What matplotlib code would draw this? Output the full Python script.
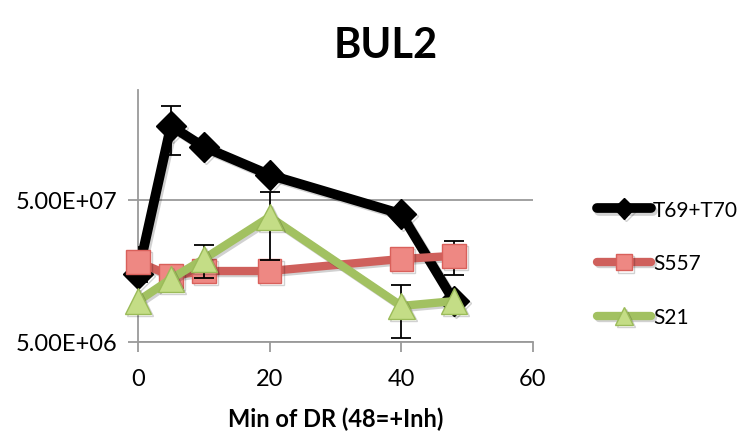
import matplotlib
matplotlib.use("Agg")
import matplotlib.pyplot as plt
import matplotlib.patheffects as pe
from matplotlib.ticker import FixedLocator, NullLocator

plt.rcParams['font.family'] = ['Lato', 'DejaVu Sans']

# minutes of DR (48 = +Inh)
minutes = [0, 5, 10, 20, 40, 48]

t69_t70 = [1.51e7, 1.66e8, 1.18e8, 7.5e7, 3.98e7, 9.7e6]
t69_t70_err = [0, 6.3e7, 0, 0, 0, 0]

s557 = [1.83e7, 1.46e7, 1.58e7, 1.58e7, 1.92e7, 2.02e7]
s557_err = [5e6, 0, 0, 0, 0, 5.5e6]

s21 = [9.7e6, 1.39e7, 1.92e7, 3.80e7, 8.97e6, 9.7e6]
s21_err = [0, 0, 5e6, 1.9e7, 3.6e6, 0]

y_ticks = [5e6, 5e7]
y_tick_labels = ["5.00E+06", "5.00E+07"]
x_ticks = [0, 20, 40, 60]

fig = plt.figure(figsize=(7.47, 4.35), dpi=100)
ax = fig.add_axes([0.1847, 0.2115, 0.5288, 0.5793])

shadow = [pe.SimpleLineShadow(offset=(1.5, -1.5), alpha=0.18, shadow_color='black'), pe.Normal()]

series = [
    ("T69+T70", t69_t70, t69_t70_err, dict(color='black', marker='D', markersize=15,
                                            markerfacecolor='black', markeredgecolor='black',
                                            linewidth=7)),
    ("S557", s557, s557_err, dict(color='#CF605C', marker='s', markersize=17,
                                   markerfacecolor='#EE8883', markeredgecolor='#D9605B',
                                   linewidth=6)),
    ("S21", s21, s21_err, dict(color='#A2C161', marker='^', markersize=19,
                                markerfacecolor='#C4DD86', markeredgecolor='#9BBB59',
                                linewidth=6)),
]

for z, (name, vals, err, style) in enumerate(series):
    # only the points that have error bars in the original
    ex = [m for m, e in zip(minutes, err) if e > 0]
    ey = [v for v, e in zip(vals, err) if e > 0]
    ee = [e for e in err if e > 0]
    ax.errorbar(ex, ey, yerr=ee, fmt='none', ecolor='black', elinewidth=1.3,
                capsize=7, capthick=1.3, zorder=2 + 2 * z)
    ax.plot(minutes, vals, label=name, zorder=3 + 2 * z, clip_on=False,
            solid_capstyle='round', path_effects=shadow, **style)

ax.set_yscale('log')
ax.set_ylim(5e6, 2.97e8)
ax.set_xlim(0, 60)
ax.yaxis.set_major_locator(FixedLocator(y_ticks))
ax.yaxis.set_minor_locator(NullLocator())
ax.set_yticklabels(y_tick_labels)
ax.set_xticks(x_ticks)

ax.grid(axis='y', color='#9A9A9A', linewidth=1.3)
ax.set_axisbelow(True)
for side in ['top', 'right']:
    ax.spines[side].set_visible(False)
for side in ['left', 'bottom']:
    ax.spines[side].set_color('#9A9A9A')
    ax.spines[side].set_linewidth(1.3)
ax.tick_params(axis='both', colors='#9A9A9A', length=7, width=1.3, labelsize=17,
               labelcolor='black')
ax.tick_params(axis='y', pad=8)
ax.tick_params(axis='x', pad=12)

ax.set_xlabel("Min of DR (48=+Inh)", fontsize=17, fontweight='bold', labelpad=12)
fig.text(0.516, 0.895, "BUL2", fontsize=30, fontweight='bold', ha='center', va='center')

ax.legend(loc='center left', bbox_to_anchor=(0.785, 0.392), bbox_transform=fig.transFigure,
          frameon=False, fontsize=15, borderpad=0, handlelength=2.6, handletextpad=0.1,
          labelspacing=1.62, markerscale=0.7)

fig.savefig("out.png", dpi=100)
